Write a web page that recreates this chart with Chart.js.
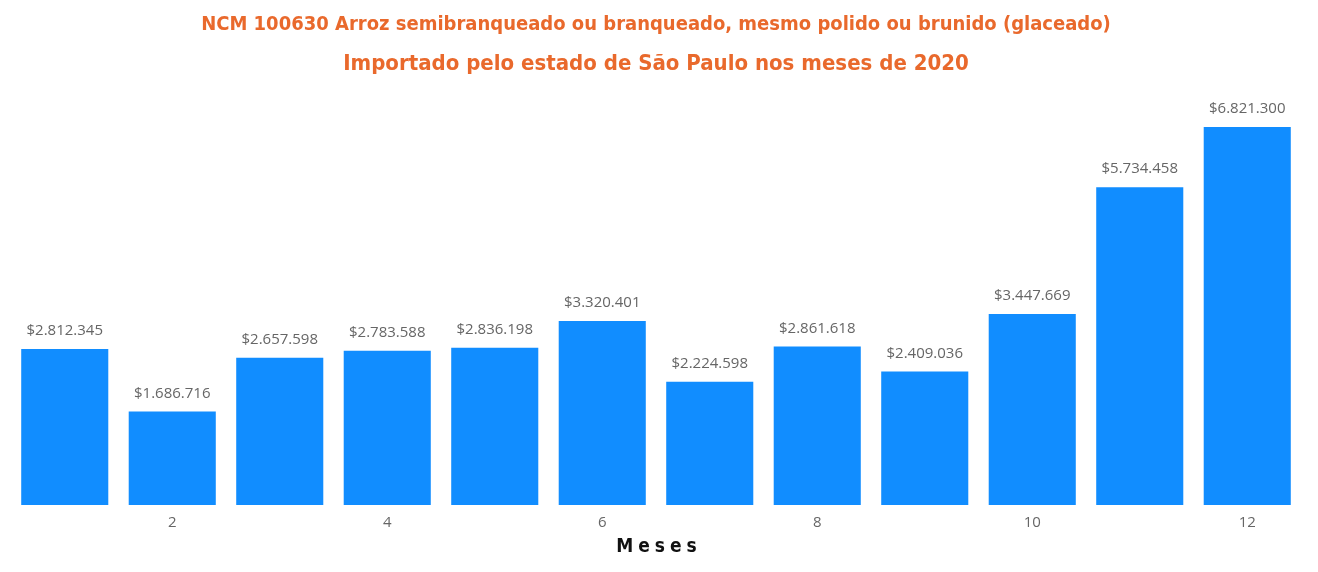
<!DOCTYPE html>
<html><head><meta charset="utf-8">
<script src="https://cdn.jsdelivr.net/npm/chart.js@4/dist/chart.umd.min.js"></script>
<style>html,body{margin:0;padding:0;background:#fff}#wrap{width:1318px;height:572px}</style>
</head><body><div id="wrap"><canvas id="c" width="1318" height="572"></canvas></div>
<script>
const titleLines = ['NCM 100630 Arroz semibranqueado ou branqueado, mesmo polido ou brunido (glaceado)', 'Importado pelo estado de São Paulo nos meses de 2020'];
const months = [1,2,3,4,5,6,7,8,9,10,11,12];
const values = [2812345,1686716,2657598,2783588,2836198,3320401,2224598,2861618,2409036,3447669,5734458,6821300];
const axisTitle = 'Meses';

function fmt(v){ return '$' + String(v).replace(/\B(?=(\d{3})+(?!\d))/g,'.'); }

const deco = {
  id:'deco',
  afterDraw(chart){
    const ctx = chart.ctx, ca = chart.chartArea;
    ctx.save();
    // title
    ctx.fillStyle = '#E9692C';
    ctx.textAlign = 'center'; ctx.textBaseline = 'middle';
    ctx.font = 'bold 20px "DejaVu Sans Condensed"';
    ctx.fillText(titleLines[0], 656, 25);
    ctx.font = 'bold 22px "DejaVu Sans Condensed"';
    ctx.fillText(titleLines[1], 656, 64);
    // labels
    ctx.fillStyle = '#666666';
    ctx.font = '15px "Open Sans"';
    const meta = chart.getDatasetMeta(0);
    meta.data.forEach((b,i)=>{ ctx.fillText(fmt(values[i]), b.x, b.y - 18); });
    // axis title
    ctx.fillStyle = '#111';
    ctx.font = 'bold 19px "DejaVu Sans Condensed"';
    ctx.letterSpacing = '5px';
    ctx.fillText(axisTitle, (ca.left+ca.right)/2 + 3, 547);
    ctx.restore();
  }
};

new Chart(document.getElementById('c'), {
  type:'bar',
  data:{ labels: months, datasets:[{ data: values, backgroundColor:'#118DFF', categoryPercentage:0.81, barPercentage:1 }]},
  options:{
    responsive:false, animation:false,
    layout:{ padding:{ top:117, left:11, right:17, bottom:39 } },
    plugins:{ legend:{display:false}, tooltip:{enabled:false}, title:{display:false} },
    scales:{
      x:{ grid:{display:false}, border:{display:false},
          ticks:{ color:'#666', font:{family:'"Open Sans"', size:15}, padding:1, autoSkip:false, maxRotation:0,
                  callback:(v,i)=> months[i]%2===0 ? String(months[i]) : '' } },
      y:{ display:false, min:0, max:7000000 }
    }
  },
  plugins:[deco]
});
</script></body></html>
